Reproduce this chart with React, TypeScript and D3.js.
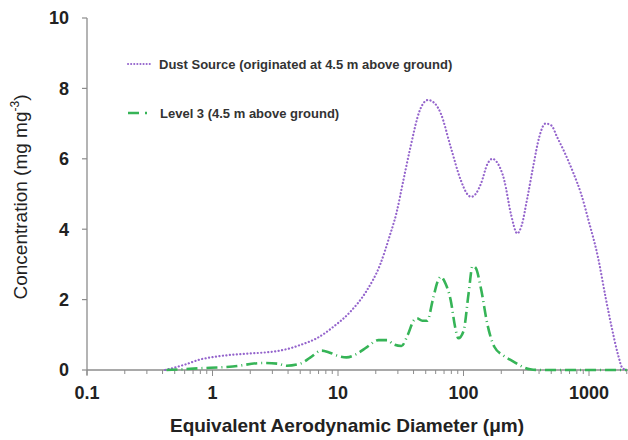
import React from "react";
import * as d3 from "d3";

// [diameter (µm), concentration]
const dustSource: [number, number][] = [
  [0.42, 0], [0.6, 0.15], [0.8, 0.3], [1.07, 0.38], [1.5, 0.44], [2, 0.47], [3, 0.52],
  [4, 0.6], [5, 0.71], [6.75, 0.9], [9.2, 1.23], [12.5, 1.65], [16.9, 2.25], [21.7, 3.0],
  [25.5, 3.75], [29.4, 4.5], [33, 5.35], [37.6, 6.3], [45, 7.39], [52, 7.67], [58, 7.6],
  [65.7, 7.3], [79, 6.34], [95, 5.4], [107, 5.0], [115, 4.92], [125, 5.0], [138, 5.3],
  [155, 5.85], [170, 6.0], [185, 5.9], [211, 5.4], [240, 4.4], [268, 3.88], [290, 4.1],
  [323, 4.9], [360, 5.8], [400, 6.6], [450, 7.0], [500, 6.95], [560, 6.6], [635, 6.2],
  [750, 5.6], [866, 5.0], [1000, 4.2], [1180, 3.2], [1350, 2.1], [1520, 1.2], [1700, 0.45],
  [1850, 0.05], [2000, 0],
];

const level3: [number, number][] = [
  [0.43, 0], [0.8, 0.05], [1.45, 0.1], [2.5, 0.2], [3.3, 0.18], [3.9, 0.12], [5, 0.18],
  [6, 0.35], [7.4, 0.55], [8.5, 0.5], [10, 0.4], [11.7, 0.36], [14, 0.45], [17, 0.65],
  [21, 0.85], [24.6, 0.85], [28, 0.72], [32, 0.68], [36, 1.0], [40, 1.4], [42.5, 1.47],
  [47, 1.4], [51.4, 1.4], [57, 2.0], [62, 2.5], [66, 2.65], [72, 2.45], [79, 1.99],
  [86, 1.2], [91, 0.9], [100, 1.1], [110, 2.2], [118, 2.95], [125, 2.9], [138, 2.3],
  [155, 1.3], [176, 0.66], [210, 0.4], [250, 0.24], [300, 0.08], [340, 0.02], [400, 0],
  [2000, 0],
];

const yTicks = [0, 2, 4, 6, 8, 10];
const xMajor = [0.1, 1, 10, 100, 1000];
const xLabels = ["0.1", "1", "10", "100", "1000"];
const legendLabels = ["Dust Source (originated at 4.5 m above ground)", "Level 3 (4.5 m above ground)"];

const W = 628, H = 440;
const left = 87, bottom = 370, top = 18;

export default function App() {
  const x = d3.scaleLog().domain([0.1, 1000]).range([left, 589]);
  const y = d3.scaleLinear().domain([0, 10]).range([bottom, top]);

  const line = d3.line<[number, number]>()
    .x(d => x(d[0]))
    .y(d => y(d[1]))
    .curve(d3.curveMonotoneX);

  // minor ticks for every 1..9 in each decade
  const minor: number[] = [];
  for (let e = -1; e <= 3; e++) {
    for (let m = 1; m <= 9; m++) {
      const v = m * Math.pow(10, e);
      if (x(v) < W) minor.push(v);
    }
  }

  const purple = "#9464cc";
  const green = "#36b457";
  const axisCol = "#8c8c8c";

  return (
    <svg width={W} height={H} style={{ position: "absolute", left: 0, top: 0, fontFamily: "'Liberation Sans', Arial, sans-serif" }}>
      <rect width={W} height={H} fill="#fff" />
      {/* axes */}
      <line x1={left} x2={left} y1={top} y2={bottom + 5} stroke={axisCol} strokeWidth={1.3} />
      <line x1={left} x2={W} y1={bottom} y2={bottom} stroke={axisCol} strokeWidth={1.3} />
      {yTicks.map(t => (
        <g key={t} transform={`translate(${left},${y(t)})`}>
          <line x1={-5} x2={0} stroke={axisCol} strokeWidth={1.2} />
          <text x={-18} dy="0.35em" textAnchor="end" fontSize={18} fontWeight="bold" fill="#222">{t}</text>
        </g>
      ))}
      {minor.map((v, i) => (
        <line key={i} x1={x(v)} x2={x(v)} y1={bottom} y2={bottom + (xMajor.includes(v) ? 6 : 4)} stroke={axisCol} strokeWidth={1} />
      ))}
      {xMajor.map((v, i) => (
        <text key={v} x={x(v)} y={399} textAnchor="middle" fontSize={18} fontWeight="bold" fill="#222">{xLabels[i]}</text>
      ))}
      <text x={347} y={432} textAnchor="middle" fontSize={19} fontWeight="bold" fill="#222">
        Equivalent Aerodynamic Diameter (μm)
      </text>
      <text transform={`translate(27,197) rotate(-90)`} textAnchor="middle" fontSize={19} fill="#222">
        Concentration (mg mg<tspan dy={-8} fontSize={12}>-3</tspan><tspan dy={8}>)</tspan>
      </text>

      {/* series */}
      <path d={line(dustSource) || ""} fill="none" stroke={purple} strokeWidth={2.2}
        strokeDasharray="0.1 3.4" strokeLinecap="round" />
      <path d={line(level3) || ""} fill="none" stroke={green} strokeWidth={2.6}
        strokeDasharray="11 4 1 4" strokeLinecap="butt" />

      {/* legend */}
      <line x1={128} x2={151} y1={64} y2={64} stroke={purple} strokeWidth={2} strokeDasharray="0.1 3" strokeLinecap="round" />
      <text x={159} y={64} dy="0.35em" fontSize={13} fontWeight="bold" fill="#333">{legendLabels[0]}</text>
      <line x1={128} x2={152} y1={113} y2={113} stroke={green} strokeWidth={2.6} strokeDasharray="11 6 2 6" />
      <text x={160} y={113} dy="0.35em" fontSize={13} fontWeight="bold" fill="#333">{legendLabels[1]}</text>
    </svg>
  );
}
